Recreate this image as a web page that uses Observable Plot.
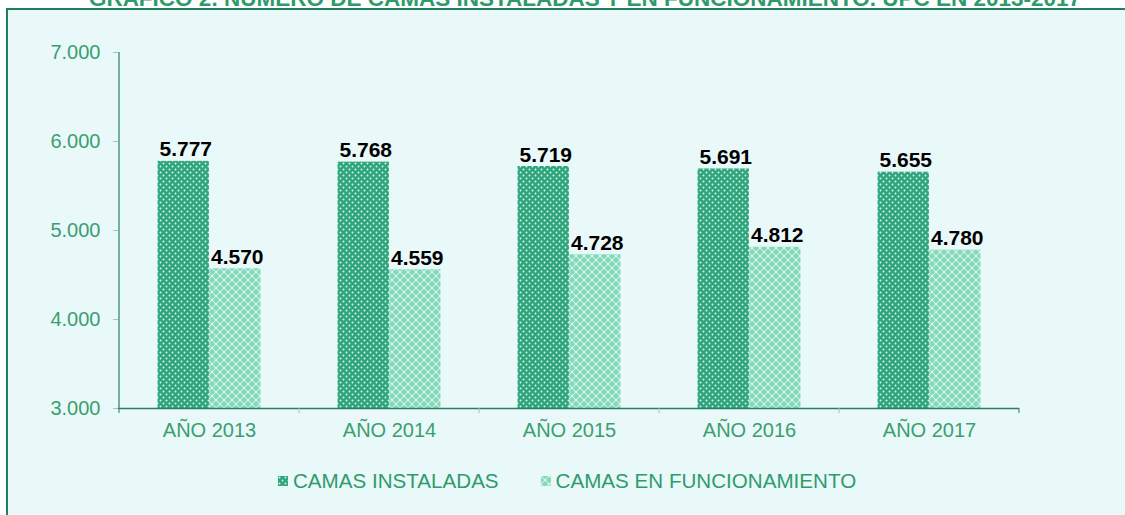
<!DOCTYPE html>
<html><head><meta charset="utf-8">
<script src="https://cdn.jsdelivr.net/npm/d3@7"></script>
<script src="https://cdn.jsdelivr.net/npm/@observablehq/plot@0.6"></script>
<style>
html,body{margin:0;padding:0}
body{width:1125px;height:515px;overflow:hidden;background:#fff;font-family:"Liberation Sans",Arial,Helvetica,sans-serif;position:relative}
#title{position:absolute;top:-13px;left:85px;width:1000px;text-align:center;font-weight:bold;font-size:22.5px;line-height:23px;color:#2f9b6d;white-space:nowrap}
#frame{position:absolute;left:6px;top:8px;width:1130px;height:520px;border-left:2px solid #1f7f5f;border-top:2px solid #1f7f5f;background:#e9f8f8}
#chart{position:absolute;left:0;top:0}
#legend{position:absolute;top:470px;left:278px;display:flex;align-items:center;font-size:20.6px;line-height:22px;color:#2f9b6d;white-space:nowrap}
#legend .item{display:flex;align-items:center}
#legend .item + .item{margin-left:42px}
#legend svg{margin-right:5px}
</style></head>
<body>
<svg width="0" height="0" style="position:absolute">
  <defs>
    <pattern id="pInst" patternUnits="userSpaceOnUse" width="6" height="6">
      <rect width="6" height="6" fill="#2ea57c"/>
      <circle cx="1.5" cy="1.5" r="0.95" fill="#d9f6ea"/>
      <circle cx="4.5" cy="4.5" r="0.95" fill="#d9f6ea"/>
    </pattern>
    <pattern id="pFunc" patternUnits="userSpaceOnUse" width="8" height="8">
      <rect width="8" height="8" fill="#84d9bb"/>
      <path d="M0,0L8,8M8,0L0,8" stroke="#c4f0e0" stroke-width="1.2"/>
      <circle cx="4" cy="4" r="0.9" fill="#e6fbf3"/>
      <circle cx="0" cy="0" r="0.9" fill="#e6fbf3"/>
      <circle cx="8" cy="8" r="0.9" fill="#e6fbf3"/>
      <circle cx="8" cy="0" r="0.9" fill="#e6fbf3"/>
      <circle cx="0" cy="8" r="0.9" fill="#e6fbf3"/>
    </pattern>
  </defs>
</svg>
<div id="title">GRÁFICO 2. NÚMERO DE CAMAS INSTALADAS Y EN FUNCIONAMIENTO. UPC EN 2013-2017</div>
<div id="frame"></div>
<div id="chart"></div>
<div id="legend"></div>
<script>
const years = ["AÑO 2013","AÑO 2014","AÑO 2015","AÑO 2016","AÑO 2017"];
const series = ["CAMAS INSTALADAS","CAMAS EN FUNCIONAMIENTO"];
const instaladas = [5777,5768,5719,5691,5655];
const funcionamiento = [4570,4559,4728,4812,4780];
const yTicks = [3000,4000,5000,6000,7000];

const patterns = ["url(#pInst)","url(#pFunc)"];
const loc = d3.formatLocale({decimal:",", thousands:".", grouping:[3], currency:["",""]});
const fmt = loc.format(",d");

const W = 1125, H = 450, ML = 118, MR = 106, MT = 52, MB = 42;
const bw = (W - ML - MR) / years.length;
const outer = 0.214 * bw;
const barW = (bw - 2 * outer) / 2;

const instData = years.map((y, i) => ({year: y, value: instaladas[i]}));
const funcData = years.map((y, i) => ({year: y, value: funcionamiento[i]}));

const labelStyle = {fontWeight: "bold", fontSize: 21, fill: "#000", lineAnchor: "bottom", dy: -5,
  fontFamily: "Liberation Sans, Arial, sans-serif"};

const plot = Plot.plot({
  width: W, height: H,
  marginLeft: ML, marginRight: MR, marginTop: MT, marginBottom: MB,
  style: {background: "transparent", fontFamily: "Liberation Sans, Arial, sans-serif", fontSize: "20px", overflow: "visible"},
  x: {domain: years, padding: 0, tickSize: 0, tickPadding: 14, label: null},
  y: {domain: [yTicks[0], yTicks[yTicks.length - 1]], ticks: yTicks, tickFormat: fmt, tickSize: 5, tickPadding: 13, label: null},
  marks: [
    Plot.barY(instData, {x: "year", y1: yTicks[0], y2: "value", fill: patterns[0], insetLeft: outer, insetRight: bw - outer - barW}),
    Plot.barY(funcData, {x: "year", y1: yTicks[0], y2: "value", fill: patterns[1], insetLeft: outer + barW, insetRight: outer}),
    Plot.text(instData, {x: "year", y: "value", text: d => fmt(d.value), dx: outer + barW / 2 - bw / 2 + 2, ...labelStyle}),
    Plot.text(funcData, {x: "year", y: "value", text: d => fmt(d.value), dx: outer + barW * 1.5 - bw / 2 + 2, ...labelStyle}),
    Plot.ruleY([yTicks[0]], {stroke: "#2a7f62", strokeWidth: 1.3})
  ]
});
document.getElementById("chart").appendChild(plot);

const svg = d3.select(plot);
svg.selectAll('[aria-label="y-axis tick label"] text, [aria-label="y-axis tick label"]').attr("fill", "#3a9f70");
svg.selectAll('[aria-label="x-axis tick label"] text, [aria-label="x-axis tick label"]').attr("fill", "#3a9f70");
svg.selectAll('[aria-label="y-axis tick"]').attr("stroke", "#9cc9b8");

const xs = plot.scale("x"), ys = plot.scale("y");
const y0 = ys.apply(yTicks[0]), yTop = ys.apply(yTicks[yTicks.length - 1]);
const xLeft = xs.apply(years[0]);
const xRight = xs.apply(years[years.length - 1]) + xs.bandwidth;
const g = svg.append("g");
g.append("line").attr("x1", xLeft).attr("x2", xLeft).attr("y1", yTop).attr("y2", y0).attr("stroke", "#2a7f62").attr("stroke-width", 1.2);
const bounds = years.map(y => xs.apply(y)).concat([xRight]);
bounds.forEach((bx, i) => {
  const end = i === 0 || i === bounds.length - 1;
  g.append("line").attr("x1", bx).attr("x2", bx).attr("y1", y0).attr("y2", y0 + 5)
    .attr("stroke", end ? "#2a7f62" : "#9cc9b8").attr("stroke-width", 1);
});

const leg = d3.select("#legend");
series.forEach((s, i) => {
  const it = leg.append("div").attr("class", "item");
  const sw = it.append("svg").attr("width", 10).attr("height", 10);
  sw.append("rect").attr("width", 10).attr("height", 10).attr("fill", patterns[i]);
  it.append("span").text(s);
});
</script>
</body></html>
